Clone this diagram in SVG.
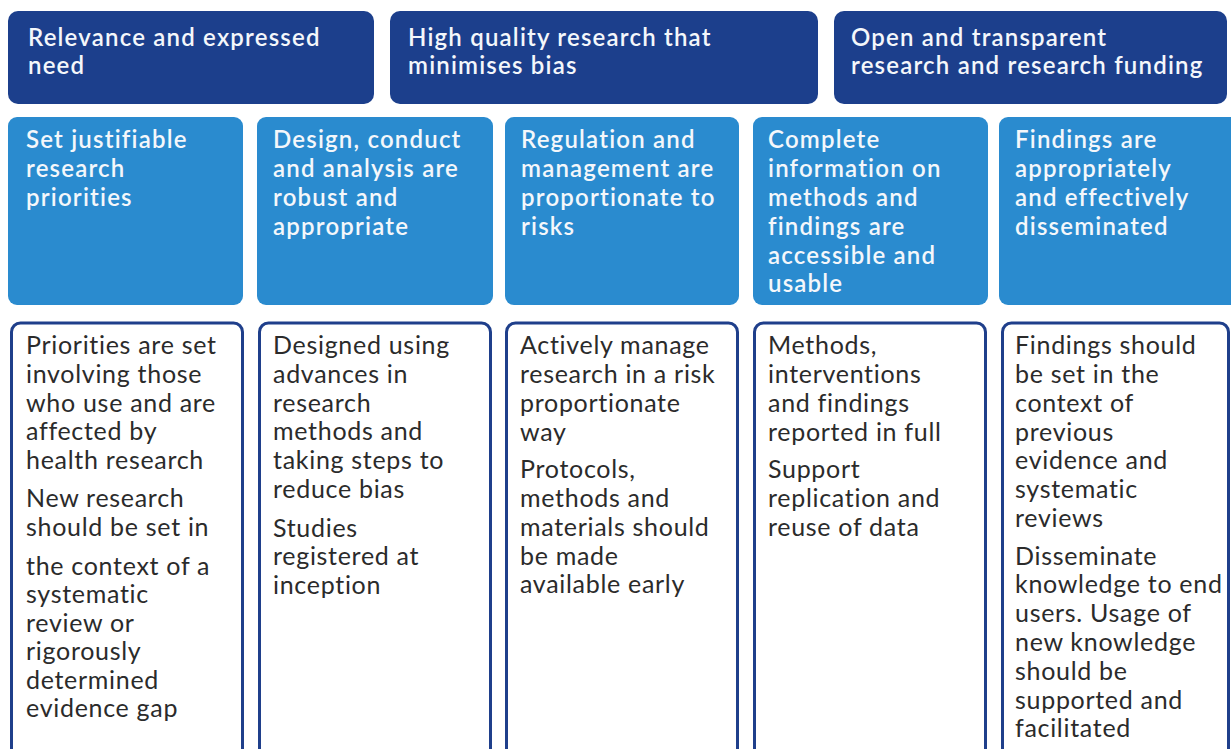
<svg xmlns="http://www.w3.org/2000/svg" width="1231" height="749" viewBox="0 0 1231 749">
  <style>
    .theme { fill: #1c3f8c; }
    .principle { fill: #2a8bcf; }
    .detail { fill: #ffffff; stroke: #1f3f8b; stroke-width: 3; }
    .hd { font-family: Lato, "Noto Sans", "Liberation Sans", sans-serif; font-size: 24px; font-weight: 600; fill: #f4f7fb; letter-spacing: 1.2px; }
    .tx { font-family: Lato, "Noto Sans", "Liberation Sans", sans-serif; font-size: 25px; font-weight: 400; fill: #2b2b2b; letter-spacing: 0.7px; }
  </style>

  <rect width="1231" height="749" fill="#ffffff"/>

  <!-- Themes (top row) -->
  <g id="theme-relevance">
    <rect class="theme" x="8" y="11" width="366" height="93" rx="10"/>
    <text class="hd" x="28" y="46">Relevance and expressed</text>
    <text class="hd" x="28" y="74">need</text>
  </g>
  <g id="theme-quality">
    <rect class="theme" x="390" y="11" width="428" height="93" rx="10"/>
    <text class="hd" x="408" y="46">High quality research that</text>
    <text class="hd" x="408" y="74">minimises bias</text>
  </g>
  <g id="theme-open">
    <rect class="theme" x="834" y="11" width="393" height="93" rx="10"/>
    <text class="hd" x="851" y="46">Open and transparent</text>
    <text class="hd" x="851" y="74">research and research funding</text>
  </g>

  <!-- Principles (middle row) -->
  <g id="principle-priorities">
    <rect class="principle" x="8" y="117" width="235" height="188" rx="9"/>
    <text class="hd" x="26" y="148">Set justifiable</text>
    <text class="hd" x="26" y="177">research</text>
    <text class="hd" x="26" y="206">priorities</text>
  </g>
  <g id="principle-design">
    <rect class="principle" x="257" y="117" width="236" height="188" rx="9"/>
    <text class="hd" x="273" y="148">Design, conduct</text>
    <text class="hd" x="273" y="177">and analysis are</text>
    <text class="hd" x="273" y="206">robust and</text>
    <text class="hd" x="273" y="235">appropriate</text>
  </g>
  <g id="principle-regulation">
    <rect class="principle" x="505" y="117" width="234" height="188" rx="9"/>
    <text class="hd" x="521" y="148">Regulation and</text>
    <text class="hd" x="521" y="177">management are</text>
    <text class="hd" x="521" y="206">proportionate to</text>
    <text class="hd" x="521" y="235">risks</text>
  </g>
  <g id="principle-information">
    <rect class="principle" x="753" y="117" width="235" height="188" rx="9"/>
    <text class="hd" x="768" y="148">Complete</text>
    <text class="hd" x="768" y="177">information on</text>
    <text class="hd" x="768" y="206">methods and</text>
    <text class="hd" x="768" y="235">findings are</text>
    <text class="hd" x="768" y="264">accessible and</text>
    <text class="hd" x="768" y="292">usable</text>
  </g>
  <g id="principle-dissemination">
    <rect class="principle" x="999" y="117" width="240" height="188" rx="9"/>
    <text class="hd" x="1015" y="148">Findings are</text>
    <text class="hd" x="1015" y="177">appropriately</text>
    <text class="hd" x="1015" y="206">and effectively</text>
    <text class="hd" x="1015" y="235">disseminated</text>
  </g>

  <!-- Practices (bottom row, running past the lower edge) -->
  <g id="practice-priorities">
    <rect class="detail" x="11.5" y="323" width="231" height="450" rx="9"/>
    <text class="tx" x="26" y="354">Priorities are set</text>
    <text class="tx" x="26" y="383">involving those</text>
    <text class="tx" x="26" y="412">who use and are</text>
    <text class="tx" x="26" y="440">affected by</text>
    <text class="tx" x="26" y="469">health research</text>
    <text class="tx" x="26" y="507">New research</text>
    <text class="tx" x="26" y="536">should be set in</text>
    <text class="tx" x="26" y="575">the context of a</text>
    <text class="tx" x="26" y="603">systematic</text>
    <text class="tx" x="26" y="632">review or</text>
    <text class="tx" x="26" y="660">rigorously</text>
    <text class="tx" x="26" y="689">determined</text>
    <text class="tx" x="26" y="717">evidence gap</text>
  </g>
  <g id="practice-design">
    <rect class="detail" x="259.5" y="323" width="231" height="450" rx="9"/>
    <text class="tx" x="273" y="354">Designed using</text>
    <text class="tx" x="273" y="383">advances in</text>
    <text class="tx" x="273" y="412">research</text>
    <text class="tx" x="273" y="440">methods and</text>
    <text class="tx" x="273" y="469">taking steps to</text>
    <text class="tx" x="273" y="498">reduce bias</text>
    <text class="tx" x="273" y="537">Studies</text>
    <text class="tx" x="273" y="565">registered at</text>
    <text class="tx" x="273" y="594">inception</text>
  </g>
  <g id="practice-regulation">
    <rect class="detail" x="506.5" y="323" width="231" height="450" rx="9"/>
    <text class="tx" x="520" y="354">Actively manage</text>
    <text class="tx" x="520" y="383">research in a risk</text>
    <text class="tx" x="520" y="412">proportionate</text>
    <text class="tx" x="520" y="441">way</text>
    <text class="tx" x="520" y="478">Protocols,</text>
    <text class="tx" x="520" y="507">methods and</text>
    <text class="tx" x="520" y="536">materials should</text>
    <text class="tx" x="520" y="565">be made</text>
    <text class="tx" x="520" y="593">available early</text>
  </g>
  <g id="practice-information">
    <rect class="detail" x="754.5" y="323" width="231" height="450" rx="9"/>
    <text class="tx" x="768" y="354">Methods,</text>
    <text class="tx" x="768" y="383">interventions</text>
    <text class="tx" x="768" y="412">and findings</text>
    <text class="tx" x="768" y="441">reported in full</text>
    <text class="tx" x="768" y="478">Support</text>
    <text class="tx" x="768" y="507">replication and</text>
    <text class="tx" x="768" y="536">reuse of data</text>
  </g>
  <g id="practice-dissemination">
    <rect class="detail" x="1002.5" y="323" width="226" height="450" rx="9"/>
    <text class="tx" x="1015" y="354">Findings should</text>
    <text class="tx" x="1015" y="383">be set in the</text>
    <text class="tx" x="1015" y="412">context of</text>
    <text class="tx" x="1015" y="441">previous</text>
    <text class="tx" x="1015" y="469">evidence and</text>
    <text class="tx" x="1015" y="498">systematic</text>
    <text class="tx" x="1015" y="527">reviews</text>
    <text class="tx" x="1015" y="565">Disseminate</text>
    <text class="tx" x="1015" y="593">knowledge to end</text>
    <text class="tx" x="1015" y="622">users. Usage of</text>
    <text class="tx" x="1015" y="651">new knowledge</text>
    <text class="tx" x="1015" y="680">should be</text>
    <text class="tx" x="1015" y="709">supported and</text>
    <text class="tx" x="1015" y="737">facilitated</text>
  </g>
</svg>
